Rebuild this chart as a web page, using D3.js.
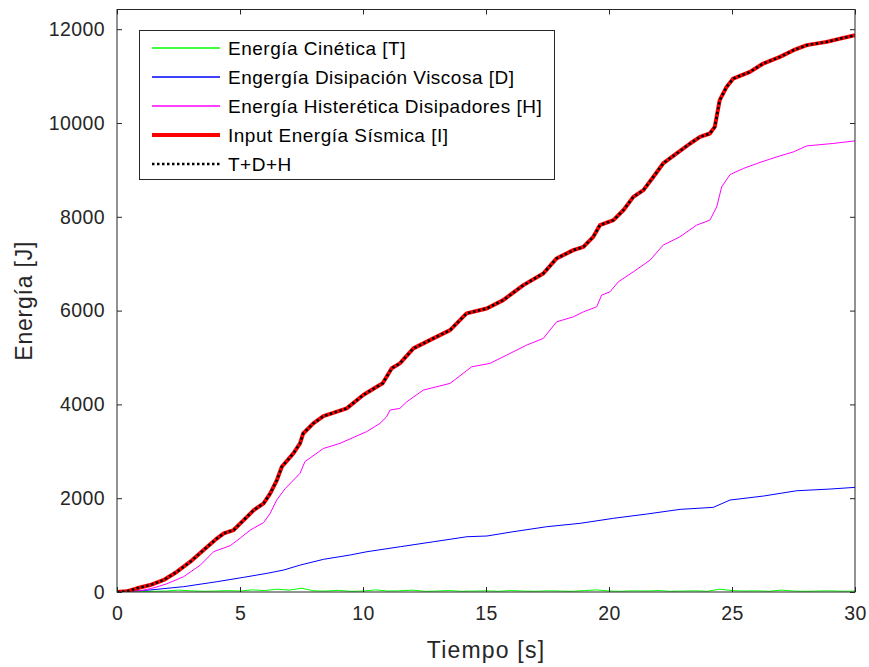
<!DOCTYPE html>
<html>
<head>
<meta charset="utf-8">
<script src="https://cdn.jsdelivr.net/npm/d3@7"></script>
<style>
  body { margin: 0; background: #fff; }
  text { font-family: "Liberation Sans", Arial, sans-serif; }
</style>
</head>
<body>
<svg id="chart" width="869" height="667"></svg>
<script>
// ---- data ----
const xTicks = [0, 5, 10, 15, 20, 25, 30];
const yTicks = [0, 2000, 4000, 6000, 8000, 10000, 12000];

// Energía Cinética [T]
const tT = [0,0.5,1,1.5,2,2.5,3,3.5,4,4.5,5,5.5,6,6.5,7,7.5,8,8.5,9,9.5,10,10.5,11,11.5,12,12.5,13,13.5,14,14.5,15,15.5,16,16.5,17,17.5,18,18.5,19,19.5,20,20.5,21,21.5,22,22.5,23,23.5,24,24.5,25,25.5,26,26.5,27,27.5,28,28.5,29,29.5,30];
const eT = [0,5,10,15,20,40,25,15,20,30,20,45,30,60,40,80,25,20,35,15,20,45,20,25,40,15,20,30,15,20,25,15,30,20,15,25,20,15,30,45,20,15,25,20,30,15,20,25,15,60,30,20,25,15,40,20,15,20,25,15,20];

// Engergía Disipación Viscosa [D]
const tD = [0,1.35,2.7,4.07,5.15,6.1,6.78,7.45,8.4,9.48,10.16,11.52,12.87,14.23,15.04,16.1,17.47,18.82,20.18,21.53,22.89,24.24,24.92,26.28,27.63,28.98,30];
const eD = [0,43,113,220,313,398,469,575,697,789,859,966,1072,1179,1194,1285,1392,1464,1571,1662,1762,1805,1961,2046,2159,2195,2231];

// Energía Histerética Disipadores [H]
const tH = [0,1,1.5,2,2.71,3.39,3.93,4.61,5.01,5.42,5.96,6.23,6.49,6.83,7.44,7.64,8.39,9.07,10.15,10.69,10.96,11.1,11.5,11.78,12.45,13.54,14.42,15.16,15.84,16.65,17.33,17.87,18.55,18.96,19.5,19.7,20.04,20.38,20.99,21.67,22.2,22.88,23.56,24.1,24.38,24.58,24.92,25.46,26.14,26.82,27.5,28.04,29.1,30];
const eH = [0,30,90,170,327,575,860,990,1150,1321,1480,1680,1960,2200,2530,2780,3060,3170,3420,3595,3736,3880,3915,4056,4305,4448,4802,4874,5051,5264,5407,5761,5867,5974,6080,6330,6400,6614,6827,7076,7396,7573,7822,7928,8212,8638,8900,9030,9160,9278,9384,9512,9563,9619];

// Input Energía Sísmica [I]  (T+D+H lies on top of it)
const tI = [0,0.4,0.81,1.35,1.9,2.44,2.98,3.52,4.07,4.34,4.74,5.15,5.56,5.96,6.23,6.5,6.7,7.17,7.44,7.57,7.98,8.39,8.79,9.34,10.01,10.56,10.8,11.17,11.5,12.05,12.72,13.54,14.21,15.03,15.7,16.52,17.33,17.87,18.55,18.96,19.36,19.63,20.18,20.6,20.99,21.4,21.8,22.2,22.75,23.3,23.7,24.1,24.3,24.5,24.78,25.05,25.73,26.27,26.95,27.5,28.04,28.85,29.4,30];
const eI = [0,15,79,149,256,433,646,895,1144,1250,1321,1534,1747,1890,2103,2387,2670,2955,3170,3380,3595,3750,3820,3915,4200,4375,4450,4770,4875,5194,5371,5584,5940,6046,6223,6543,6792,7112,7289,7359,7573,7822,7928,8150,8425,8568,8850,9137,9350,9563,9704,9776,9917,10486,10770,10948,11090,11268,11410,11552,11660,11730,11800,11870];

const legendLabels = ["Energía Cinética [T]", "Engergía Disipación Viscosa [D]",
  "Energía Histerética Disipadores [H]", "Input Energía Sísmica [I]", "T+D+H"];

// ---- layout ----
const plotLeft = 117, plotRight = 855, plotTop = 9.5, plotBottom = 592;
const axisColor = "#262626";

const svg = d3.select("#chart");

const x = d3.scaleLinear().domain([0, 30]).range([plotLeft, plotRight]);
const y = d3.scaleLinear().domain([0, 12420]).range([plotBottom, plotTop]);

function zip(ts, vs) {
  return ts.map((t, i) => [t, vs[i]]);
}

const series = [
  { data: zip(tT, eT), color: "#00ff00", width: 1, dash: null },
  { data: zip(tD, eD), color: "#0000ff", width: 1, dash: null },
  { data: zip(tH, eH), color: "#ff00ff", width: 1, dash: null },
  { data: zip(tI, eI), color: "#ff0000", width: 4, dash: null },
  { data: zip(tI, eI), color: "#000000", width: 2.5, dash: "2.5,2.5" }
];

// clip to the axes box
svg.append("clipPath").attr("id", "plot")
  .append("rect")
  .attr("x", plotLeft).attr("y", plotTop)
  .attr("width", plotRight - plotLeft).attr("height", plotBottom - plotTop);

const line = d3.line().x(d => x(d[0])).y(d => y(d[1]));

function drawLines() {
  const g = svg.append("g").attr("clip-path", "url(#plot)");
  series.forEach(s => {
    g.append("path")
      .datum(s.data)
      .attr("d", line)
      .attr("fill", "none")
      .attr("stroke", s.color)
      .attr("stroke-width", s.width)
      .attr("stroke-dasharray", s.dash)
      .attr("stroke-linejoin", "round");
  });
}

function drawAxes() {
  // bottom / left with labels, top / right ticks only, all ticks pointing inward
  const fmt = d3.format("d");
  const bottomAxis = d3.axisBottom(x).tickValues(xTicks).tickFormat(fmt).tickSizeInner(-5).tickSizeOuter(0).tickPadding(14);
  const leftAxis = d3.axisLeft(y).tickValues(yTicks).tickFormat(fmt).tickSizeInner(-5).tickSizeOuter(0).tickPadding(12);
  const topAxis = d3.axisTop(x).tickValues(xTicks).tickSizeInner(-5).tickSizeOuter(0).tickFormat("");
  const rightAxis = d3.axisRight(y).tickValues(yTicks).tickSizeInner(-5).tickSizeOuter(0).tickFormat("");

  const gb = svg.append("g").attr("transform", `translate(0,${plotBottom})`).call(bottomAxis);
  const gl = svg.append("g").attr("transform", `translate(${plotLeft},0)`).call(leftAxis);
  const gt = svg.append("g").attr("transform", `translate(0,${plotTop})`).call(topAxis);
  const gr = svg.append("g").attr("transform", `translate(${plotRight},0)`).call(rightAxis);

  [gb, gl, gt, gr].forEach(g => {
    g.select(".domain").remove();
    g.selectAll("line").attr("stroke", axisColor);
    g.selectAll("text")
      .attr("fill", axisColor)
      .style("font-size", "19.5px")
      .style("letter-spacing", "0.4px");
  });

  svg.append("rect")
    .attr("x", plotLeft).attr("y", plotTop)
    .attr("width", plotRight - plotLeft).attr("height", plotBottom - plotTop)
    .attr("fill", "none")
    .attr("stroke", axisColor)
    .attr("stroke-width", 1);

  svg.append("text")
    .attr("x", (plotLeft + plotRight) / 2)
    .attr("y", 658)
    .attr("text-anchor", "middle")
    .attr("fill", axisColor)
    .style("font-size", "23px")
    .style("letter-spacing", "1.2px")
    .text("Tiempo [s]");

  svg.append("text")
    .attr("transform", `translate(32,${(plotTop + plotBottom) / 2}) rotate(-90)`)
    .attr("text-anchor", "middle")
    .attr("fill", axisColor)
    .style("font-size", "23px")
    .style("letter-spacing", "0.8px")
    .text("Energía [J]");
}

function drawLegend() {
  const g = svg.append("g");
  g.append("rect")
    .attr("x", 139.5).attr("y", 30.5)
    .attr("width", 415).attr("height", 149)
    .attr("fill", "#fff")
    .attr("stroke", axisColor)
    .attr("stroke-width", 1);

  const rowY = d3.scaleLinear().domain([0, 4]).range([48, 164]);
  legendLabels.forEach((label, i) => {
    const s = series[i];
    g.append("line")
      .attr("x1", 152).attr("x2", 220)
      .attr("y1", rowY(i)).attr("y2", rowY(i))
      .attr("stroke", s.color)
      .attr("stroke-width", Math.max(s.width, 1.5))
      .attr("stroke-dasharray", s.dash);
    g.append("text")
      .attr("x", 228)
      .attr("y", rowY(i) + 7)
      .attr("fill", "#000")
      .style("font-size", "19px")
      .style("letter-spacing", "0.5px")
      .text(label);
  });
}

drawLines();
drawAxes();
drawLegend();
</script>
</body>
</html>
